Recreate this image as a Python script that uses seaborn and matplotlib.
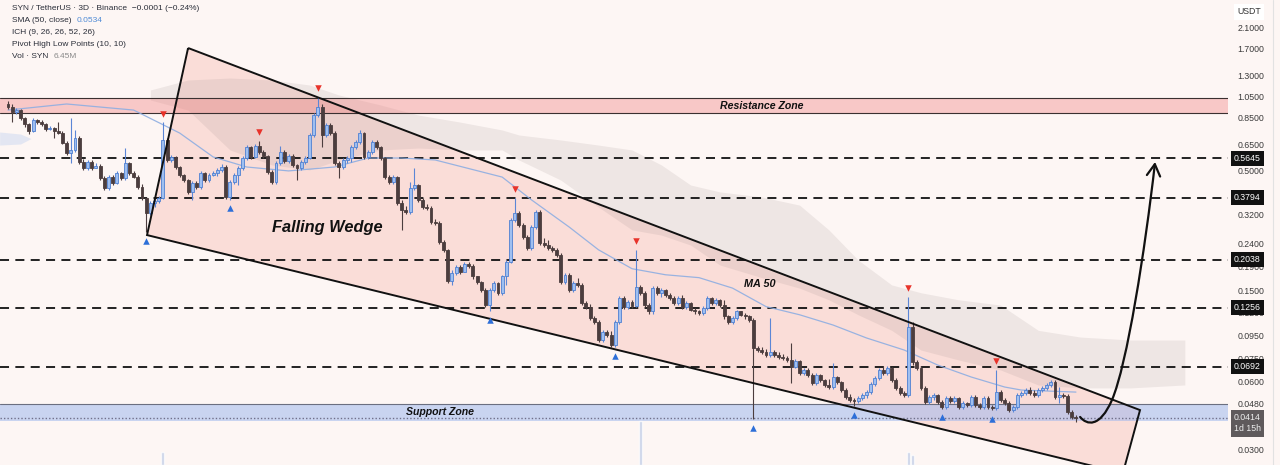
import numpy as np
import pandas as pd
import matplotlib
matplotlib.use("Agg")
import matplotlib.pyplot as plt
import matplotlib.transforms as mtransforms
from matplotlib.patches import Polygon, FancyArrowPatch
from matplotlib.path import Path
import seaborn as sns

sns.set_theme(style="white")
plt.rcParams['font.family'] = ['Liberation Sans', 'DejaVu Sans']

# ---------------- data (SYN/USDT, 3D candles) ----------------
first_open = 0.977
closes = [
    0.948, 0.901, 0.919, 0.848, 0.799, 0.744, 0.831, 0.814, 0.799, 0.760,
    0.767, 0.744, 0.729, 0.660, 0.597, 0.615, 0.694, 0.545, 0.513, 0.545,
    0.513, 0.524, 0.464, 0.419, 0.468, 0.440, 0.488, 0.464, 0.539, 0.488,
    0.468, 0.423, 0.379, 0.326, 0.361, 0.368, 0.379, 0.680, 0.556, 0.573,
    0.518, 0.478, 0.454, 0.403, 0.440, 0.423, 0.488, 0.454, 0.478, 0.488,
    0.503, 0.518, 0.383, 0.445, 0.478, 0.513, 0.567, 0.633, 0.573, 0.640,
    0.603, 0.579, 0.493, 0.445, 0.539, 0.603, 0.550, 0.579, 0.529, 0.513,
    0.545, 0.567, 0.715, 0.874, 0.948, 0.715, 0.791, 0.729, 0.539, 0.518,
    0.556, 0.567, 0.633, 0.666, 0.729, 0.573, 0.603, 0.666, 0.633, 0.567,
    0.468, 0.445, 0.468, 0.361, 0.336, 0.329, 0.419, 0.432, 0.372, 0.346,
    0.342, 0.298, 0.295, 0.243, 0.225, 0.164, 0.178, 0.189, 0.180, 0.195,
    0.191, 0.172, 0.163, 0.150, 0.129, 0.150, 0.161, 0.146, 0.172, 0.199,
    0.304, 0.326, 0.289, 0.256, 0.229, 0.283, 0.329, 0.241, 0.236, 0.229,
    0.225, 0.214, 0.163, 0.175, 0.150, 0.161, 0.158, 0.132, 0.126, 0.113,
    0.109, 0.0907, 0.098, 0.0954, 0.0863, 0.109, 0.139, 0.126, 0.133, 0.128,
    0.155, 0.146, 0.129, 0.121, 0.153, 0.146, 0.150, 0.143, 0.139, 0.132,
    0.139, 0.126, 0.132, 0.123, 0.121, 0.119, 0.125, 0.139, 0.132, 0.136,
    0.129, 0.115, 0.109, 0.113, 0.121, 0.117, 0.115, 0.111, 0.0837, 0.0820,
    0.0804, 0.0780, 0.0804, 0.0780, 0.0764, 0.0757, 0.0742, 0.0691, 0.0735, 0.0651,
    0.0671, 0.0638, 0.0588, 0.0638, 0.0606, 0.0577, 0.0565, 0.0625, 0.0594, 0.0548,
    0.0511, 0.0496, 0.0491, 0.0506, 0.0521, 0.0537, 0.0583, 0.0618, 0.0671, 0.0651,
    0.0684, 0.0606, 0.0560, 0.0532, 0.0521, 0.1034, 0.0727, 0.0684, 0.0560, 0.0486,
    0.0511, 0.0521, 0.0486, 0.0463, 0.0506, 0.0491, 0.0506, 0.0463, 0.0481, 0.0472,
    0.0511, 0.0472, 0.0463, 0.0506, 0.0463, 0.0458, 0.0537, 0.0496, 0.0481, 0.0448,
    0.0463, 0.0521, 0.0532, 0.0548, 0.0532, 0.0521, 0.0548, 0.0560, 0.0577, 0.0594,
    0.0511, 0.0521, 0.0516, 0.0439, 0.0418, 0.0414,
]
highs = [
    1.007, 0.977, 0.938, 0.929, 0.857, 0.806, 0.848, 0.840, 0.831, 0.806,
    0.783, 0.775, 0.814, 0.744, 0.673, 0.848, 0.752, 0.708, 0.562, 0.556,
    0.556, 0.539, 0.534, 0.473, 0.478, 0.478, 0.498, 0.493, 0.627, 0.545,
    0.498, 0.478, 0.436, 0.379, 0.368, 0.376, 0.387, 0.814, 0.694, 0.585,
    0.579, 0.524, 0.483, 0.459, 0.449, 0.449, 0.498, 0.493, 0.488, 0.498,
    0.513, 0.534, 0.529, 0.454, 0.488, 0.524, 0.579, 0.646, 0.640, 0.653,
    0.673, 0.615, 0.585, 0.503, 0.550, 0.640, 0.615, 0.591, 0.591, 0.534,
    0.556, 0.579, 0.729, 0.891, 1.049, 0.977, 0.806, 0.806, 0.744, 0.550,
    0.567, 0.579, 0.646, 0.680, 0.752, 0.737, 0.615, 0.680, 0.680, 0.640,
    0.573, 0.478, 0.478, 0.473, 0.372, 0.349, 0.445, 0.513, 0.436, 0.379,
    0.357, 0.349, 0.307, 0.301, 0.248, 0.227, 0.184, 0.193, 0.193, 0.199,
    0.199, 0.195, 0.173, 0.164, 0.153, 0.153, 0.164, 0.163, 0.175, 0.203,
    0.310, 0.379, 0.333, 0.295, 0.261, 0.289, 0.336, 0.336, 0.253, 0.248,
    0.234, 0.229, 0.218, 0.178, 0.178, 0.164, 0.170, 0.161, 0.135, 0.131,
    0.116, 0.111, 0.100, 0.100, 0.099, 0.111, 0.142, 0.142, 0.136, 0.136,
    0.225, 0.158, 0.149, 0.132, 0.156, 0.156, 0.153, 0.152, 0.146, 0.142,
    0.142, 0.143, 0.135, 0.133, 0.125, 0.123, 0.128, 0.142, 0.140, 0.139,
    0.137, 0.136, 0.117, 0.116, 0.123, 0.122, 0.119, 0.117, 0.113, 0.0854,
    0.0846, 0.0829, 0.113, 0.0820, 0.0804, 0.0788, 0.0772, 0.0880, 0.0750, 0.0742,
    0.0684, 0.0684, 0.0651, 0.0651, 0.0645, 0.0613, 0.0613, 0.0720, 0.0632, 0.0600,
    0.0560, 0.0527, 0.0506, 0.0516, 0.0532, 0.0548, 0.0594, 0.0632, 0.0684, 0.0698,
    0.0698, 0.0691, 0.0618, 0.0571, 0.0543, 0.140, 0.109, 0.0742, 0.0698, 0.0571,
    0.0521, 0.0532, 0.0527, 0.0496, 0.0516, 0.0516, 0.0516, 0.0511, 0.0491, 0.0486,
    0.0521, 0.0521, 0.0481, 0.0516, 0.0516, 0.0472, 0.0671, 0.0548, 0.0506, 0.0491,
    0.0472, 0.0532, 0.0543, 0.0560, 0.0565, 0.0548, 0.0560, 0.0571, 0.0588, 0.0606,
    0.0606, 0.0565, 0.0532, 0.0527, 0.0448, 0.0426,
]
lows = [
    0.929, 0.814, 0.883, 0.831, 0.775, 0.723, 0.737, 0.799, 0.783, 0.744,
    0.752, 0.694, 0.723, 0.653, 0.585, 0.539, 0.603, 0.534, 0.503, 0.503,
    0.503, 0.513, 0.454, 0.411, 0.411, 0.432, 0.436, 0.454, 0.454, 0.478,
    0.464, 0.415, 0.372, 0.269, 0.320, 0.346, 0.361, 0.376, 0.545, 0.545,
    0.508, 0.468, 0.445, 0.395, 0.372, 0.415, 0.415, 0.445, 0.445, 0.473,
    0.473, 0.493, 0.376, 0.372, 0.436, 0.432, 0.503, 0.556, 0.562, 0.567,
    0.591, 0.567, 0.483, 0.436, 0.436, 0.529, 0.539, 0.539, 0.518, 0.454,
    0.503, 0.534, 0.562, 0.701, 0.857, 0.633, 0.701, 0.715, 0.529, 0.464,
    0.508, 0.539, 0.545, 0.621, 0.653, 0.562, 0.562, 0.591, 0.621, 0.556,
    0.459, 0.436, 0.436, 0.353, 0.275, 0.323, 0.323, 0.411, 0.365, 0.339,
    0.336, 0.292, 0.289, 0.238, 0.221, 0.161, 0.158, 0.175, 0.177, 0.180,
    0.187, 0.168, 0.160, 0.147, 0.126, 0.121, 0.147, 0.143, 0.143, 0.158,
    0.197, 0.298, 0.283, 0.251, 0.225, 0.225, 0.278, 0.236, 0.231, 0.225,
    0.221, 0.210, 0.160, 0.160, 0.147, 0.147, 0.155, 0.129, 0.124, 0.111,
    0.107, 0.0889, 0.0889, 0.0935, 0.0846, 0.0846, 0.107, 0.124, 0.124, 0.125,
    0.126, 0.143, 0.126, 0.118, 0.118, 0.143, 0.140, 0.140, 0.136, 0.129,
    0.129, 0.124, 0.124, 0.121, 0.118, 0.117, 0.117, 0.123, 0.129, 0.129,
    0.126, 0.112, 0.107, 0.107, 0.111, 0.115, 0.112, 0.109, 0.0409, 0.0804,
    0.0788, 0.0764, 0.0764, 0.0764, 0.0750, 0.0742, 0.0727, 0.0588, 0.0684, 0.0638,
    0.0638, 0.0625, 0.0577, 0.0577, 0.0594, 0.0565, 0.0554, 0.0554, 0.0583, 0.0537,
    0.0501, 0.0486, 0.0467, 0.0481, 0.0496, 0.0506, 0.0527, 0.0571, 0.0606, 0.0638,
    0.0638, 0.0594, 0.0548, 0.0521, 0.0511, 0.0511, 0.0705, 0.0671, 0.0548, 0.0477,
    0.0477, 0.0496, 0.0477, 0.0454, 0.0454, 0.0481, 0.0481, 0.0454, 0.0454, 0.0463,
    0.0463, 0.0463, 0.0454, 0.0454, 0.0454, 0.0448, 0.0448, 0.0486, 0.0472, 0.0439,
    0.0439, 0.0454, 0.0511, 0.0521, 0.0521, 0.0511, 0.0511, 0.0537, 0.0548, 0.0565,
    0.0501, 0.0481, 0.0506, 0.0430, 0.0409, 0.0397,
]
pivot_high_idx = [37, 60, 74, 121, 150, 215, 236]
pivot_low_idx = [33, 53, 115, 145, 178, 202, 223, 235]

sma_idx = [0, 14, 30, 41, 49, 57, 67, 78, 86, 94, 102, 118, 125, 134, 141, 149,
           157, 165, 173, 181, 189, 197, 205, 214, 222, 230, 238, 242, 255]
sma_vals = [0.919, 0.977, 0.919, 0.729, 0.573, 0.518, 0.498, 0.518, 0.567, 0.567,
            0.556, 0.468, 0.372, 0.283, 0.225, 0.186, 0.175, 0.170, 0.153, 0.127,
            0.117, 0.1055, 0.0926, 0.0820, 0.0705, 0.0625, 0.0565, 0.0548, 0.0537]

cloud_idx = [34, 43, 53, 63, 72, 79, 89, 98, 108, 118, 122, 132, 141, 149, 156,
             163, 170, 180, 189, 196, 203, 211, 218, 227, 237, 246, 256, 268, 281]
cloud_upper = [1.125, 1.244, 1.269, 1.244, 1.183, 1.070, 0.967, 0.874, 0.814, 0.752,
               0.715, 0.680, 0.646, 0.615, 0.529, 0.432, 0.403, 0.383, 0.353, 0.275,
               0.203, 0.158, 0.146, 0.136, 0.129, 0.100, 0.0935, 0.0907, 0.0907]
cloud_lower = [1.017, 0.919, 0.615, 0.529, 0.503, 0.556, 0.615, 0.627, 0.615, 0.615,
               0.556, 0.454, 0.346, 0.275, 0.261, 0.236, 0.193, 0.170, 0.153, 0.136,
               0.117, 0.100, 0.0820, 0.0742, 0.0671, 0.0577, 0.0560, 0.0560, 0.0577]
bull_cloud_idx = [-2, 3, 5.5]
bull_cloud_upper = [0.737, 0.722, 0.690]
bull_cloud_lower = [0.646, 0.653, 0.690]

key_levels = [0.5645, 0.3794, 0.2038, 0.1256, 0.0692]
resistance_zone = (0.892, 1.038)
support_zone = (0.0400, 0.0477)
last_price = 0.0414
axis_ticks = [2.1, 1.7, 1.3, 1.05, 0.85, 0.65, 0.5, 0.4, 0.32, 0.24, 0.19,
              0.15, 0.12, 0.095, 0.075, 0.06, 0.048, 0.03]
vol_idx = [37, 151, 215, 216]
vol_vals = [55, 190, 55, 42]

# ---------------- styling ----------------
BG = '#fdf6f4'
UP_FILL, UP_EDGE, UP_WICK = '#9fbff0', '#4f80d2', '#5b86d6'
DN = '#4b3d3e'

n = len(closes)
c = np.array(closes)
df = pd.DataFrame({
    'i': np.arange(n),
    'open': np.concatenate([[first_open], c[:-1]]),
    'high': highs, 'low': lows, 'close': closes,
})
up = df['close'] >= df['open']

fig = plt.figure(figsize=(12.8, 4.65), dpi=100, facecolor=BG)
ax = fig.add_axes([0, 0, 1228 / 1280, 1])
ax.set_facecolor(BG)
ax.set_yscale('log')
ax.set_xlim(-8 / 4.188, 1220 / 4.188)
ax.set_ylim(0.02577, 2.784)
for s in ax.spines.values():
    s.set_visible(False)

# falling wedge
wedge = [(43.0, 1.717), (270.3, 0.0448), (266.2, 0.0237), (33.2, 0.261)]
ax.add_patch(Polygon(wedge, closed=True, facecolor='#f7b2a9', alpha=0.36,
                     edgecolor='none', zorder=0.5))
ax.add_patch(Polygon(wedge, closed=True, facecolor='none',
                     edgecolor='#111111', lw=1.4, zorder=3.5))

# ichimoku cloud
ax.fill_between(cloud_idx, cloud_lower, cloud_upper, color='#8c7c7c',
                alpha=0.13, lw=0, zorder=0.8)
ax.fill_between(bull_cloud_idx, bull_cloud_lower, bull_cloud_upper,
                color='#a9c3ee', alpha=0.3, lw=0, zorder=0.8)

# zones
ax.axhspan(*resistance_zone, color='#f07f7f', alpha=0.38, lw=0, zorder=1)
for v in resistance_zone:
    ax.axhline(v, color='#3a3030', lw=0.8, zorder=1.1)
ax.axhspan(*support_zone, color='#9fb8ee', alpha=0.55, lw=0, zorder=1)
ax.axhline(support_zone[1], color='#6b6f80', lw=0.8, zorder=1.1)
ax.axhline(last_price, color='#70708a', lw=1.0, ls=(0, (1, 1.5)), zorder=1.1)

# key levels
for lv in key_levels:
    ax.axhline(lv, color='#111111', lw=1.3, ls=(0, (5, 3.5)), zorder=1.5)

# SMA 50
sns.lineplot(x=sma_idx, y=sma_vals, ax=ax, color='#8eaee2', lw=0.9, alpha=0.9,
             zorder=2)

# candles
ax.vlines(df['i'][up], df['low'][up], df['high'][up], color=UP_WICK, lw=0.8, zorder=3)
ax.vlines(df['i'][~up], df['low'][~up], df['high'][~up], color=DN, lw=0.8, zorder=3)
ax.bar(df['i'][up], (df['close'] - df['open'])[up], bottom=df['open'][up],
       width=0.7, color=UP_FILL, edgecolor=UP_EDGE, linewidth=0.6, zorder=3.1)
ax.bar(df['i'][~up], (df['open'] - df['close'])[~up], bottom=df['close'][~up],
       width=0.7, color=DN, edgecolor=DN, linewidth=0.6, zorder=3.1)

# pivots
hi = np.array(highs); lo = np.array(lows)
ax.scatter(pivot_high_idx, hi[pivot_high_idx] * 1.09, marker='v', s=22,
           color='#e8332b', linewidths=0, zorder=4)
ax.scatter(pivot_low_idx, lo[pivot_low_idx] / 1.09, marker='^', s=22,
           color='#2d6fd8', linewidths=0, zorder=4)

# volume (own axis)
vax = ax.twinx()
vax.set_ylim(0, 2000)
vax.bar(vol_idx, vol_vals, width=0.7, color='#b7c5e4', alpha=0.7, zorder=1)
vax.set_yticks([])
for s in vax.spines.values():
    s.set_visible(False)
vax.set_xlim(ax.get_xlim())

# annotations
lab = dict(fontweight='bold', fontstyle='italic', color='#111111', ha='center',
           va='center', zorder=5)
ax.text(76.2, 0.283, 'Falling Wedge', fontsize=11.8, **lab)
ax.text(179.6, 0.159, 'MA 50', fontsize=7.8, **lab)
ax.text(180.0, 0.957, 'Resistance Zone', fontsize=7.6, **lab)
ax.text(103.2, 0.0439, 'Support Zone', fontsize=7.6, **lab)

verts = [(256.0, 0.0418), (257.6, 0.0385), (260.7, 0.0374), (263.6, 0.0496),
         (267.2, 0.0705), (271.5, 0.225), (273.9, 0.545)]
codes = [Path.MOVETO] + [Path.CURVE4] * 6
arrow = FancyArrowPatch(path=Path(verts, codes), transform=ax.transData,
                        arrowstyle='->,head_length=0.7,head_width=0.4',
                        mutation_scale=12, lw=1.6, color='#111111', zorder=5)
ax.add_patch(arrow)

# price scale
ax.yaxis.tick_right()
ax.set_yticks(axis_ticks)
ax.set_yticklabels([f'{t:.4f}' for t in axis_ticks])
ax.yaxis.set_minor_locator(matplotlib.ticker.NullLocator())
ax.tick_params(axis='y', length=0, pad=7, labelsize=6.3, labelcolor='#3a3a3a')
ax.set_xticks([])
ax.set_ylabel('')

blend = mtransforms.blended_transform_factory(ax.transAxes, ax.transData)
for lv in key_levels:
    ax.text(1.0049, lv, f'{lv:.4f}', transform=blend, fontsize=6.3, color='white',
            ha='left', va='center', clip_on=False, zorder=6,
            bbox=dict(boxstyle='square,pad=0.35', fc='#111111', ec='none'))
ax.text(1.0049, 0.0435, f'{last_price:.4f}\n1d 15h', transform=blend,
        fontsize=6.3, color='#eeeeee', ha='left', va='top', clip_on=False,
        zorder=6, linespacing=1.35,
        bbox=dict(boxstyle='square,pad=0.35', fc='#5f5a5c', ec='none'))
fig.text(1249 / 1280, 1 - 12 / 465, 'USDT', fontsize=6.3, color='#333333',
         ha='center', va='center',
         bbox=dict(boxstyle='square,pad=0.4', fc='white', ec='none'))
fig.add_artist(plt.Line2D([1273 / 1280] * 2, [0, 1], color='#e2e2e2', lw=0.8))

# legend header
hdr = dict(fontsize=6.0, color='#2a2e39', ha='left', va='center')
fig.text(12 / 1280, 1 - 9 / 465,
         'SYN / TetherUS \u00b7 3D \u00b7 Binance  \u22120.0001 (\u22120.24%)', **hdr)
fig.text(12 / 1280, 1 - 21 / 465, 'SMA (50, close)', **hdr)
fig.text(77 / 1280, 1 - 21 / 465, '0.0534', fontsize=6.0, color='#4f8bd6',
         ha='left', va='center')
fig.text(12 / 1280, 1 - 33 / 465, 'ICH (9, 26, 26, 52, 26)', **hdr)
fig.text(12 / 1280, 1 - 45 / 465, 'Pivot High Low Points (10, 10)', **hdr)
fig.text(12 / 1280, 1 - 57 / 465, 'Vol \u00b7 SYN', **hdr)
fig.text(54 / 1280, 1 - 57 / 465, '6.45M', fontsize=6.0, color='#8a8a8a',
         ha='left', va='center')

fig.savefig('out.png', dpi=100, facecolor=BG)
